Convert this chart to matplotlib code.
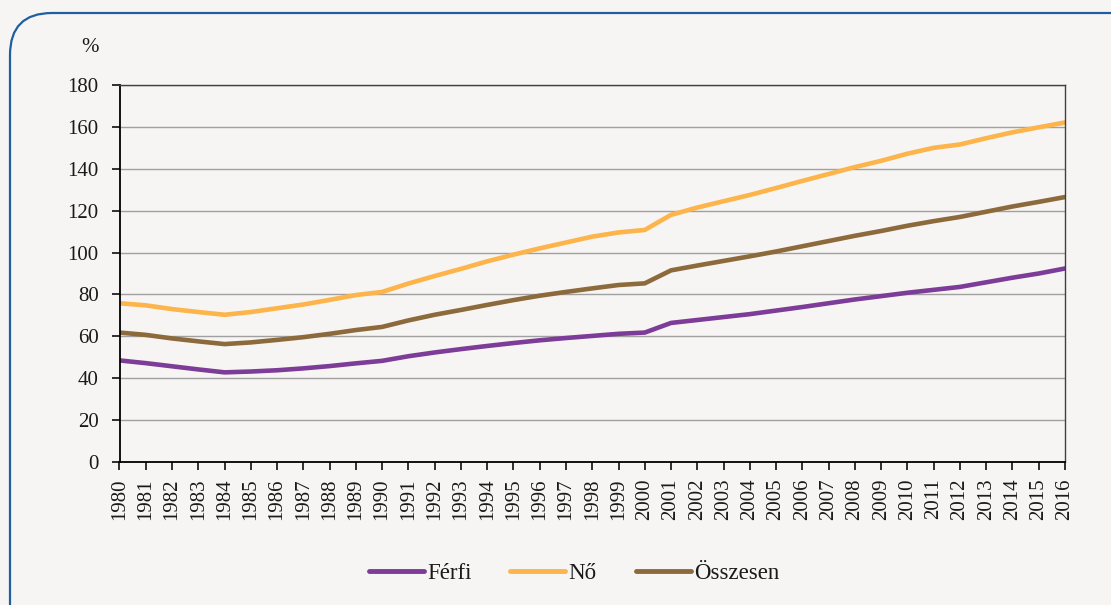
import matplotlib
matplotlib.use("Agg")
import matplotlib.pyplot as plt
from matplotlib.patches import FancyBboxPatch

years = list(range(1980, 2017))
ferfi = [48.5, 47.2, 45.7, 44.2, 42.8, 43.2, 43.8, 44.7, 45.8, 47.1,
         48.3, 50.5, 52.3, 53.9, 55.4, 56.8, 58.1, 59.2, 60.2, 61.2,
         61.8, 66.4, 67.8, 69.2, 70.6, 72.3, 74.0, 75.8, 77.6, 79.2,
         80.8, 82.2, 83.6, 85.8, 88.0, 90.0, 92.4]
no = [75.8, 74.8, 73.0, 71.6, 70.3, 71.6, 73.4, 75.2, 77.4, 79.7,
      81.2, 85.2, 88.8, 92.2, 95.8, 99.0, 102.0, 104.8, 107.6, 109.6,
      110.8, 118.0, 121.5, 124.5, 127.5, 130.8, 134.2, 137.5, 140.8, 143.8,
      147.2, 150.0, 151.6, 154.6, 157.4, 159.8, 162.1]
osszesen = [61.8, 60.7, 59.0, 57.6, 56.3, 57.1, 58.3, 59.6, 61.2, 63.0,
            64.5, 67.6, 70.3, 72.6, 75.0, 77.3, 79.4, 81.2, 82.9, 84.5,
            85.3, 91.5, 93.8, 96.0, 98.2, 100.5, 103.0, 105.5, 108.0, 110.3,
            112.8, 115.0, 117.0, 119.5, 122.0, 124.2, 126.5]
series_names = ["Férfi", "Nő", "Összesen"]
colors = ["#7D3C98", "#FDB44B", "#8C6A3B"]
yticks = [0, 20, 40, 60, 80, 100, 120, 140, 160, 180]

plt.rcParams['font.family'] = ['Liberation Serif', 'DejaVu Serif']
BG = "#F6F5F3"
W, H = 1111, 605
fig = plt.figure(figsize=(W / 100, H / 100), dpi=100, facecolor=BG)

# frame overlay in pixel coordinates
ov = fig.add_axes([0, 0, 1, 1], zorder=0)
ov.set_xlim(0, W)
ov.set_ylim(H, 0)
ov.axis("off")
ov.patch.set_alpha(0)
box = FancyBboxPatch((10, 13), 1250, 700, boxstyle="round,pad=0,rounding_size=42",
                     linewidth=1.6, edgecolor="#1F5F9F", facecolor=BG)
ov.add_patch(box)

ax = fig.add_axes([119.5 / W, 1 - 462 / H, (1065 - 119.5) / W, (462 - 85) / H], zorder=1)
ax.set_facecolor(BG)
for vals, name, c in zip([ferfi, no, osszesen], series_names, colors):
    ax.plot(years, vals, color=c, lw=3.3, label=name, solid_capstyle="round",
            solid_joinstyle="round")

ax.set_xlim(1980, 2016)
ax.set_ylim(0, 180)
ax.set_yticks(yticks)
ax.set_xticks(years)
ax.set_xticklabels([str(y) for y in years], rotation=90)
ax.grid(axis="y", color="#A0A0A0", lw=1.0)
ax.set_axisbelow(True)
for s in ["top", "right"]:
    ax.spines[s].set_color("#404040")
    ax.spines[s].set_linewidth(1.0)
for s in ["left", "bottom"]:
    ax.spines[s].set_color("black")
    ax.spines[s].set_linewidth(1.3)
ax.tick_params(axis="both", direction="out", length=6, width=1.3, color="#202020",
               labelsize=15, labelcolor="#1a1a1a")
ax.tick_params(axis="y", pad=9)
ax.tick_params(axis="x", pad=6)

fig.text(90 / W, 1 - 47 / H, "%", fontsize=15, ha="center", va="center", color="#1a1a1a")

leg = fig.legend(loc="center", bbox_to_anchor=(574 / W, 1 - 573 / H), ncol=3,
                 frameon=False, fontsize=16.5, handlelength=2.4, handletextpad=0.15,
                 columnspacing=1.7, labelcolor="#1a1a1a")
for line in leg.get_lines():
    line.set_linewidth(3.5)

fig.savefig("out.png", dpi=100, facecolor=BG)
